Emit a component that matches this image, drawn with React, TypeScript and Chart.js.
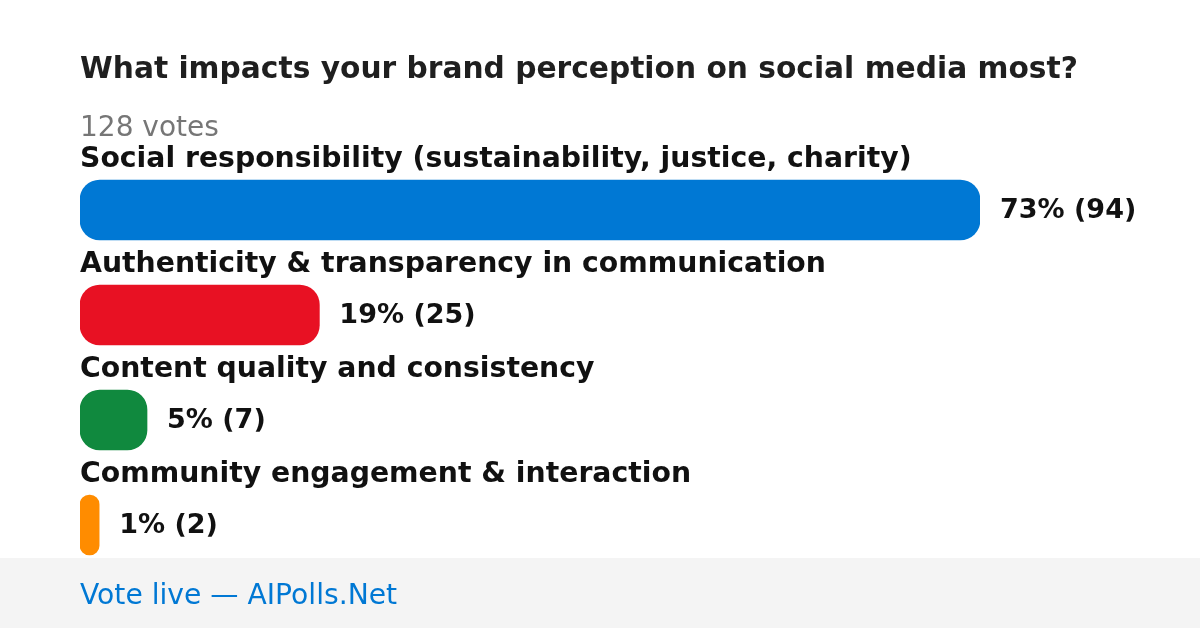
import React, { useEffect, useRef } from "react";
import { Chart, registerables } from "chart.js";

Chart.register(...registerables);

const title = "What impacts your brand perception on social media most?";
const totalVotes = 128;
const categories = [
  "Social responsibility (sustainability, justice, charity)",
  "Authenticity & transparency in communication",
  "Content quality and consistency",
  "Community engagement & interaction",
];
const votes = [94, 25, 7, 2];
const percents = [73, 19, 5, 1];
const colors = ["#0078d4", "#e81123", "#10893e", "#ff8c00"];
const footerText = "Vote live — AIPolls.Net";

const W = 1200;
const H = 628;
const FONT = "'DejaVu Sans', sans-serif";

const overlay = {
  id: "pollOverlay",
  beforeDraw(chart: any) {
    const ctx = chart.ctx;
    ctx.save();
    ctx.fillStyle = "#ffffff";
    ctx.fillRect(0, 0, W, H);
    ctx.restore();
  },
  afterDraw(chart: any) {
    const ctx = chart.ctx;
    ctx.save();
    ctx.textAlign = "left";
    ctx.textBaseline = "alphabetic";
    ctx.fillStyle = "#1f1f1f";
    ctx.font = `bold 29.7px ${FONT}`;
    ctx.fillText(title, 80, 78);
    ctx.fillStyle = "#767676";
    ctx.font = `28px ${FONT}`;
    ctx.fillText(`${totalVotes} votes`, 80, 136);
    const meta = chart.getDatasetMeta(0);
    meta.data.forEach((bar: any, i: number) => {
      const top = bar.y - bar.height / 2;
      ctx.fillStyle = "#111111";
      ctx.font = `bold 28.3px ${FONT}`;
      ctx.fillText(categories[i], 80, top - 13);
      ctx.font = `bold 27px ${FONT}`;
      ctx.fillText(`${percents[i]}% (${votes[i]})`, bar.x + 20, bar.y + 8);
    });
    ctx.fillStyle = "#f4f4f4";
    ctx.fillRect(0, 558, W, H - 558);
    ctx.fillStyle = "#0078d4";
    ctx.font = `28.2px ${FONT}`;
    ctx.fillText(footerText, 80, 604);
    ctx.restore();
  },
};

export default function App() {
  const ref = useRef<HTMLCanvasElement | null>(null);
  useEffect(() => {
    if (!ref.current) return;
    const chart = new Chart(ref.current, {
      type: "bar",
      data: {
        labels: categories,
        datasets: [
          {
            data: votes,
            backgroundColor: colors,
            borderRadius: 20,
            borderSkipped: false,
            barThickness: 60,
          },
        ],
      },
      options: {
        indexAxis: "y",
        responsive: false,
        animation: false,
        devicePixelRatio: 1,
        layout: { padding: { left: 80, right: 220, top: 157.5, bottom: 50.5 } },
        scales: {
          x: { display: false, min: 0, max: Math.max(...votes) },
          y: { display: false },
        },
        plugins: {
          legend: { display: false },
          tooltip: { enabled: false },
        },
      },
      plugins: [overlay],
    } as any);
    return () => chart.destroy();
  }, []);
  return (
    <div style={{ position: "fixed", left: 0, top: 0, width: W, height: H }}>
      <canvas ref={ref} width={W} height={H} style={{ width: W, height: H, display: "block" }} />
    </div>
  );
}
